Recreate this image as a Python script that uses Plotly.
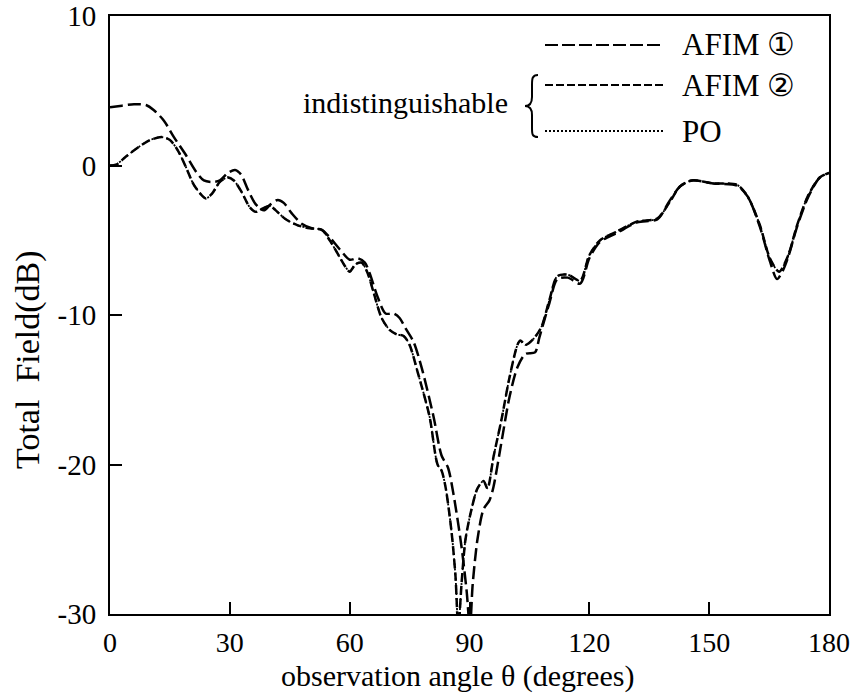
import plotly.graph_objects as go

# ---------------- data ----------------
afim1_theta = [0, 3, 6, 9, 11, 13.5, 16, 19, 21.5, 23.5, 25.5, 27.5, 29.5, 31.3, 32.8, 34.5, 36.5, 38.5,
               40.2, 42, 43.5, 45.5, 48, 50.5, 53, 55, 57.5, 60, 62, 63.8, 65, 67, 69, 71, 72.5, 74, 76,
               78, 81, 83, 84.6, 86, 88, 89.3, 90.1, 90.8, 92, 93.5, 95, 96, 98, 100, 102, 104, 106.4,
               107.5, 110, 112, 114.6, 117.7, 120, 122.7, 127, 132, 137, 140, 142.7, 145.7, 151, 157,
               159.7, 162.7, 165.2, 167, 168.5, 169.8, 172, 174.8, 177.7, 180]
afim1_db = [3.9, 4.0, 4.1, 4.05, 3.7, 3.0, 1.9, 0.7, -0.4, -1.0, -1.1, -1.0, -0.5, -0.3, -0.6, -1.6, -2.6, -3.0,
            -2.6, -2.3, -2.5, -3.2, -3.9, -4.2, -4.3, -4.8, -5.6, -6.3, -6.2, -6.5, -7.2, -8.8, -9.9, -9.9, -10.2, -10.9, -11.8,
            -13.5, -16.8, -19.4, -20.2, -22.0, -25.5, -28.5, -31.0, -28.0, -25.0, -23.0, -22.4, -21.5, -18.5, -15.5, -13.5, -12.6, -12.5,
            -11.5, -9.2, -7.6, -7.5, -7.9, -6.2, -5.1, -4.5, -3.8, -3.6, -2.4, -1.4, -1.0, -1.2, -1.35,
            -2.1, -4.1, -6.4, -7.6, -7.0, -6.1, -4.1, -2.1, -0.8, -0.5]

afim2_theta = [0, 1.5, 4, 7, 10, 13, 15, 17, 19, 21, 23, 24, 25.5, 27.5, 29.5, 31, 33, 35, 36.5, 38,
               40, 41.5, 44, 47, 50, 53, 55, 57, 59, 60, 61.5, 63, 64.5, 66, 68, 70, 71.8, 73.5, 75, 77,
               80, 82, 83, 84, 85.5, 86.5, 87.2, 88, 89, 90.5, 92, 93.5, 94.5, 96, 98, 100, 102, 102.7,
               104, 106, 108, 110, 112, 114.6, 117.7, 120, 122.7, 127, 132, 137, 140, 142.7, 145.7, 151,
               157, 159.7, 162.7, 165.2, 167.5, 169.8, 172, 174.8, 177.7, 180]
afim2_db = [0.0, 0.05, 0.6, 1.2, 1.7, 1.9, 1.7, 1.0, -0.1, -1.3, -2.0, -2.2, -1.9, -1.1, -0.8, -1.0, -1.8, -2.8, -3.1, -2.9,
            -2.7, -3.0, -3.6, -4.0, -4.2, -4.3, -5.0, -5.9, -6.8, -7.1, -6.6, -6.5, -7.2, -8.5, -10.2, -11.0, -11.3, -11.4, -12.0, -13.8,
            -16.8, -20.0, -20.4, -21.5, -24.5, -27.5, -31.0, -28.0, -25.0, -23.0, -21.6, -21.1, -21.6, -19.5, -17.0, -14.2, -12.0, -11.7,
            -12.0, -11.6, -10.8, -9.0, -7.4, -7.3, -7.7, -6.0, -5.0, -4.4, -3.75, -3.55, -2.5, -1.4, -1.0, -1.2,
            -1.3, -2.1, -4.0, -6.2, -7.1, -6.0, -4.0, -2.0, -0.8, -0.5]

# PO is indistinguishable from AFIM (2)
po_theta = afim2_theta
po_db = afim2_db

x_ticks = [0, 30, 60, 90, 120, 150, 180]
y_ticks = [-30, -20, -10, 0, 10]
y_ticklabels = ["-30", "-20", "-10", "0", "10"]

series_names = ["AFIM \u2460", "AFIM \u2461", "PO"]

# ---------------- layout helpers ----------------
W, H = 858, 694
L, R, T, B = 110, 829, 16, 614
FONT = "Liberation Serif, Times New Roman, serif"
TXT = 31


def px(xp):
    return (xp - L) / (R - L)


def py(yp):
    return (B - yp) / (B - T)


fig = go.Figure()
common = dict(mode="lines", line_shape="spline", showlegend=False, hoverinfo="skip")
fig.add_trace(go.Scatter(x=afim1_theta, y=afim1_db, name=series_names[0],
                         line=dict(color="black", width=2.5, dash="13px,5px", smoothing=0.8), **common))
fig.add_trace(go.Scatter(x=afim2_theta, y=afim2_db, name=series_names[1],
                         line=dict(color="black", width=2.5, dash="9px,4px", smoothing=0.8), **common))
fig.add_trace(go.Scatter(x=po_theta, y=po_db, name=series_names[2],
                         line=dict(color="black", width=1.8, dash="2px,3px", smoothing=0.8), **common))

shapes = []
annotations = []
legend_rows = [(45, "13px,4px"), (85, "8px,3px"), (131, "2px,2px")]
for (yy, dsh), name in zip(legend_rows, series_names):
    fig.add_trace(go.Scatter(x=[px(545), px(663)], y=[py(yy), py(yy)], xaxis="x2", yaxis="y2",
                             mode="lines", showlegend=False, hoverinfo="skip",
                             line=dict(color="black", width=2, dash=dsh)))
    annotations.append(dict(x=px(680), y=py(yy), xref="paper", yref="paper", text=name,
                            showarrow=False, xanchor="left", yanchor="middle",
                            font=dict(family=FONT, size=TXT, color="black")))

# brace
bp = [(538, 75), (532, 75), (532, 79), (532, 85), (532, 97), (532, 102), (530, 106), (525, 106),
      (530, 106), (532, 110), (532, 115), (532, 128), (532, 134), (532, 137), (538, 137)]


def P(pt):
    return f"{px(pt[0]):.5f},{py(pt[1]):.5f}"


path = (f"M {P(bp[0])} C {P(bp[1])} {P(bp[2])} {P(bp[3])} L {P(bp[4])} "
        f"C {P(bp[5])} {P(bp[6])} {P(bp[7])} C {P(bp[8])} {P(bp[9])} {P(bp[10])} "
        f"L {P(bp[11])} C {P(bp[12])} {P(bp[13])} {P(bp[14])}")
shapes.append(dict(type="path", path=path, xref="paper", yref="paper",
                   line=dict(color="black", width=2)))

annotations.append(dict(x=px(510), y=py(102), xref="paper", yref="paper", text="indistinguishable",
                        showarrow=False, xanchor="right", yanchor="middle",
                        font=dict(family=FONT, size=30, color="black")))
# axis titles
annotations.append(dict(x=px(457), y=py(676), xref="paper", yref="paper",
                        text="observation angle \u03b8 (degrees)", showarrow=False,
                        xanchor="center", yanchor="middle",
                        font=dict(family=FONT, size=30, color="black")))
annotations.append(dict(x=px(28), y=py(360), xref="paper", yref="paper",
                        text="Total  Field(dB)", showarrow=False, textangle=-90,
                        xanchor="center", yanchor="middle",
                        font=dict(family=FONT, size=34, color="black")))

fig.update_layout(
    width=W, height=H,
    margin=dict(l=L, r=W - R, t=T, b=H - B, autoexpand=False),
    paper_bgcolor="white", plot_bgcolor="white",
    font=dict(family=FONT, size=TXT, color="black"),
    xaxis=dict(range=[0, 180], tickvals=x_ticks, ticks="inside", ticklen=12, tickwidth=2,
               tickcolor="black", showline=True, linecolor="black", linewidth=2, mirror=True,
               showgrid=False, zeroline=False, ticklabelstandoff=2, automargin=False,
               ticklabeloverflow="allow",
               tickfont=dict(family=FONT, size=28, color="black")),
    yaxis=dict(range=[-30, 10], tickvals=y_ticks, ticktext=y_ticklabels, ticks="inside",
               ticklen=12, tickwidth=2, tickcolor="black", showline=True, linecolor="black",
               linewidth=2, mirror=True, showgrid=False, zeroline=False, ticklabelstandoff=6,
               automargin=False, ticklabeloverflow="allow",
               tickfont=dict(family=FONT, size=29, color="black")),
    xaxis2=dict(range=[0, 1], overlaying="x", visible=False, fixedrange=True),
    yaxis2=dict(range=[0, 1], overlaying="y", visible=False, fixedrange=True),
    shapes=shapes, annotations=annotations,
)

fig.write_html("out.html", config={"displayModeBar": False},
               post_script="document.body.style.margin='0px';document.body.style.overflow='hidden';")
